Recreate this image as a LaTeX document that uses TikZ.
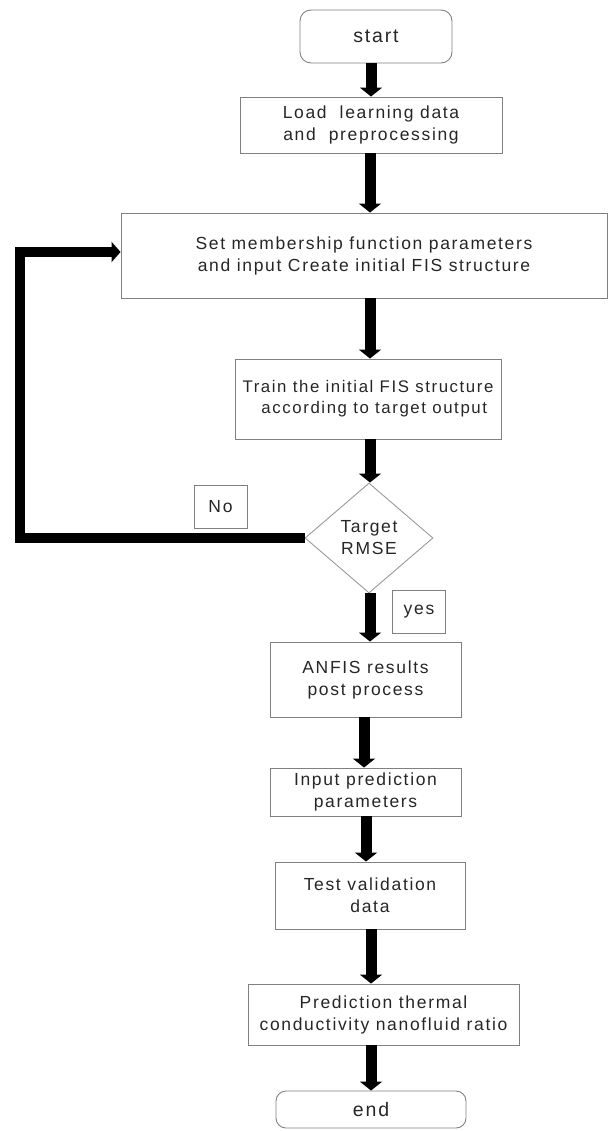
\documentclass[tikz,border=0pt]{standalone}
\usepackage{fontspec}
\setmainfont{Liberation Sans}[LetterSpace=9.5]
\usetikzlibrary{arrows.meta,shapes.geometric}
\begin{document}
\begin{tikzpicture}[x=1pt,y=-1pt,
  every node/.style={font=\fontsize{17.5}{22}\selectfont, text=black!85, align=center, inner sep=0pt},
  box/.style={draw=black!50, line width=0.9pt, rectangle},
  term/.style={draw=black!50, line width=0.9pt, rectangle, rounded corners=11pt, font=\fontsize{19.5}{22}\selectfont},
  decision/.style={draw=black!40, line width=0.9pt, diamond, minimum width=128pt, minimum height=110pt},
  tag/.style={draw=black!50, line width=0.9pt, rectangle, minimum width=53pt, minimum height=43pt},
  flow/.style={line width=11pt, -{Triangle[width=22pt,length=9pt]}},
  loopline/.style={line width=10pt, line join=miter, -{Triangle[width=20pt,length=9pt]}}
]
\useasboundingbox (0,0) rectangle (609,1131);
\node[term, minimum width=152pt, minimum height=53pt] (start) at (376,36.5) {start};
\node[box, minimum width=262pt, minimum height=56pt] (load) at (371,125) {Load \ learning data\\and \ preprocessing};
\node[box, minimum width=486pt, minimum height=85pt] (set) at (364,255.5) {Set membership function parameters\\and input Create initial FIS structure};
\node[box, minimum width=266pt, minimum height=80pt, font=\fontsize{16.8}{21}\selectfont] (train) at (368,399) {Train the initial FIS structure\\ \ \ according to target output};
\node[decision] (dia) at (369,538) {Target\\RMSE};
\node[tag] (no) at (220.5,507) {No};
\node[tag] (yes) at (419,611.5) {yes};
\node[box, minimum width=191pt, minimum height=75pt] (anfis) at (365.5,679.5) {ANFIS results\\post process};
\node[box, minimum width=191pt, minimum height=48pt] (input) at (365.5,792) {Input prediction\\parameters};
\node[box, minimum width=190pt, minimum height=67pt] (test) at (370,895.5) {Test validation\\data};
\node[box, minimum width=271pt, minimum height=61pt] (pred) at (383.5,1014.5) {Prediction thermal\\conductivity nanofluid ratio};
\node[term, minimum width=190pt, minimum height=37pt, rounded corners=10pt] (end) at (371,1109.5) {end};
\coordinate (a1) at (371,0);
\coordinate (a2) at (370,0);
\coordinate (a3) at (364,0);
\coordinate (a4) at (366,0);
\coordinate (a5) at (371,0);
\coordinate (lx) at (20,252);
\draw[flow] (start.south -| a1) -- (load.north -| a1);
\draw[flow] (load.south -| a2) -- (set.north -| a2);
\draw[flow] (set.south -| a2) -- (train.north -| a2);
\draw[flow] (train.south -| a2) -- (dia.north -| a2);
\draw[flow] (dia.south -| a2) -- (anfis.north -| a2);
\draw[flow] (anfis.south -| a3) -- (input.north -| a3);
\draw[flow] (input.south -| a4) -- (test.north -| a4);
\draw[flow] (test.south -| a5) -- (pred.north -| a5);
\draw[flow] (pred.south -| a5) -- (end.north -| a5);
\draw[loopline] (dia.west) -| (lx) -- (lx -| set.west);
\end{tikzpicture}
\end{document}
